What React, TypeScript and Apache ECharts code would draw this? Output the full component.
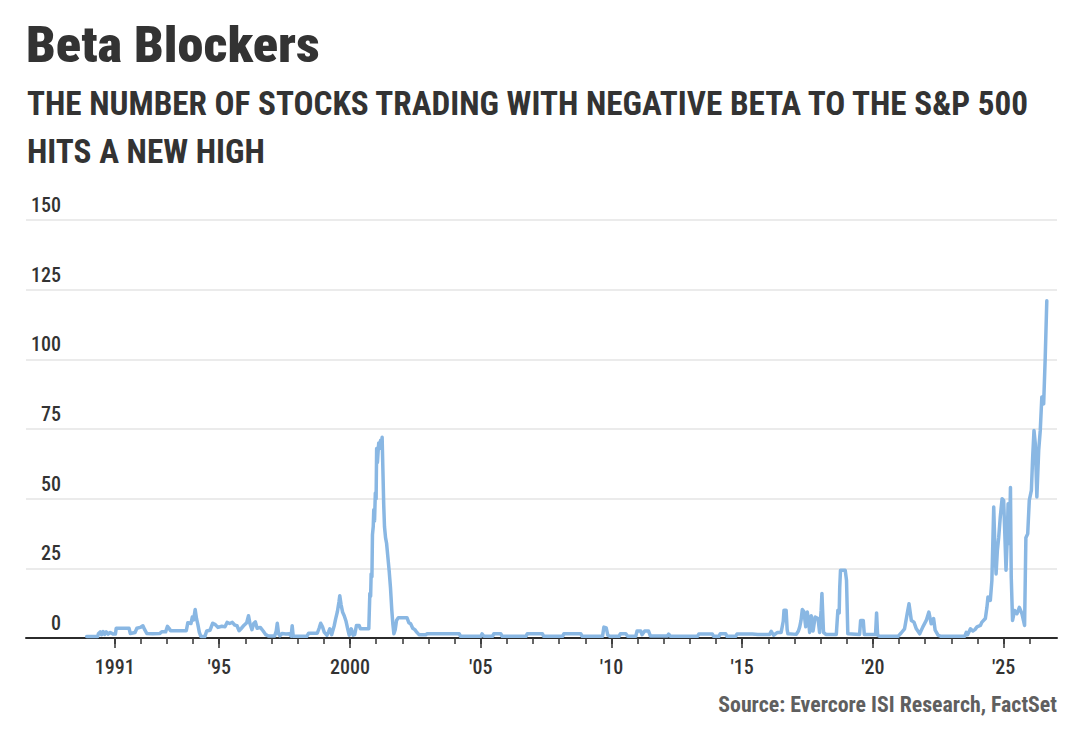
import React, { useEffect, useRef } from "react";
import * as echarts from "echarts";

const FONT = '"Liberation Sans Narrow", "Roboto Condensed", Roboto, "Liberation Sans", sans-serif';

const TITLE = "Beta Blockers";
const SUBTITLE_LINES = [
  "THE NUMBER OF STOCKS TRADING WITH NEGATIVE BETA TO THE S&P 500",
  "HITS A NEW HIGH",
];
const SOURCE = "Source: Evercore ISI Research, FactSet";

const yMin = 0;
const yMax = 150;
const yStep = 25;

const xMin = 1987.61;
const xMax = 2027.04;
const xLabelYears = [1991, 1995, 2000, 2005, 2010, 2015, 2020, 2025];
const xLabelTexts = ["1991", "'95", "2000", "'05", "'10", "'15", "'20", "'25"];
const xMinorYears = [
  1991, 1992, 1993, 1994, 1995, 1996, 1997, 1998, 1999, 2000, 2001, 2002,
  2003, 2004, 2005, 2006, 2007, 2008, 2009, 2010, 2011, 2012, 2013, 2014,
  2015, 2016, 2017, 2018, 2019, 2020, 2021, 2022, 2023, 2024, 2025, 2026,
];

// 1990s
const dates90s = [
  1989.93, 1990.35, 1990.38, 1990.45, 1990.5, 1990.56, 1990.62, 1990.68, 1990.75, 1990.83,
  1990.95, 1991.03, 1991.06, 1991.55, 1991.6, 1991.78, 1991.85, 1991.98, 1992.08, 1992.15,
  1992.23, 1992.45, 1992.72, 1992.8, 1992.95, 1993.02, 1993.08, 1993.14, 1993.74, 1993.8,
  1993.92, 1993.97, 1994.02, 1994.08, 1994.13, 1994.18, 1994.24, 1994.3, 1994.45, 1994.52,
  1994.65, 1994.75, 1994.85, 1994.95, 1995.1, 1995.22, 1995.3, 1995.4, 1995.5, 1995.6,
  1995.68, 1995.76, 1995.85, 1995.95, 1996.05, 1996.12, 1996.18, 1996.25, 1996.32, 1996.38,
  1996.45, 1996.57, 1996.68, 1996.78, 1996.88, 1997.12, 1997.18, 1997.22, 1997.27, 1997.32,
  1997.4, 1997.55, 1997.68, 1997.75, 1997.79, 1997.83, 1998.35, 1998.42, 1998.75, 1998.82,
  1998.88, 1998.95, 1999.02, 1999.12, 1999.18, 1999.23, 1999.3, 1999.4, 1999.45, 1999.52,
  1999.58, 1999.61, 1999.66, 1999.72, 1999.78, 1999.85, 1999.92, 1999.97, 2000.05, 2000.12,
  2000.18, 2000.25, 2000.35, 2000.4, 2000.72,
];
const counts90s = [
  0.5, 0.5, 1.5, 2.2, 1.2, 2.3, 1.3, 2.2, 1.4, 2.0,
  1.4, 1.4, 3.5, 3.5, 1.6, 2.0, 3.5, 3.8, 4.4, 3.0,
  1.6, 1.5, 1.6, 2.2, 2.2, 4.2, 3.5, 2.6, 2.6, 5.5,
  5.2, 7.5, 6.5, 10.2, 7.0, 5.0, 2.0, 0.5, 0.5, 2.5,
  2.8, 5.3, 4.8, 3.8, 4.2, 4.0, 5.6, 5.2, 5.6, 4.6,
  4.4, 2.6, 3.5, 4.6, 5.5, 8.0, 5.0, 3.0, 5.2, 5.8,
  3.5, 3.8, 2.5, 1.2, 0.7, 0.7, 2.5, 5.3, 1.5, 0.8,
  1.6, 1.4, 1.5, 0.7, 4.4, 0.6, 0.6, 1.7, 1.7, 3.5,
  5.3, 4.0, 2.0, 1.0, 2.2, 3.3, 1.2, 4.5, 6.8, 9.5,
  13.0, 15.2, 12.0, 9.2, 8.0, 6.0, 3.0, 1.0, 3.3, 1.0,
  1.2, 4.5, 4.5, 3.3, 3.3,
];

// dot-com spike
const datesSpike2001 = [
  2000.76, 2000.79, 2000.81, 2000.84, 2000.86, 2000.89, 2000.91, 2000.94, 2000.97, 2001.0,
  2001.02, 2001.05, 2001.07, 2001.1, 2001.13, 2001.17, 2001.21, 2001.23, 2001.26, 2001.29,
  2001.32, 2001.36, 2001.4, 2001.45, 2001.5, 2001.55, 2001.6, 2001.64, 2001.68, 2001.73,
  2001.78, 2001.85, 2002.18, 2002.25, 2002.32, 2002.4, 2002.48, 2002.56,
];
const countsSpike2001 = [
  16, 15, 23, 22, 37, 40, 46, 42, 52, 50,
  68, 63, 66, 70, 68, 71, 70, 72, 60, 48,
  40, 36, 34, 29, 24, 18, 10, 5, 1.5, 3.0,
  6.3, 7.3, 7.3, 5.5, 5.1, 3.5, 3.0, 2.0,
];

// quiet years
const datesQuiet = [
  2002.64, 2002.9, 2002.95, 2004.18, 2004.23, 2005.01, 2005.05, 2005.12, 2005.45, 2005.5,
  2005.77, 2005.82, 2006.73, 2006.78, 2007.36, 2007.41, 2008.13, 2008.18, 2008.83, 2008.88,
  2009.66, 2009.71, 2009.8, 2009.86, 2009.95, 2010.29, 2010.34, 2010.55, 2010.62, 2010.93,
  2010.98, 2011.12, 2011.17, 2011.27, 2011.42, 2011.49, 2012.14, 2012.19, 2012.26, 2013.29,
  2013.34, 2013.86, 2013.91, 2014.11, 2014.16, 2014.37, 2014.42, 2014.75, 2014.8, 2015.39,
];
const countsQuiet = [
  1.2, 1.2, 1.5, 1.5, 0.6, 0.6, 1.5, 0.6, 0.6, 1.5,
  1.5, 0.6, 0.6, 1.5, 1.5, 0.6, 0.6, 1.5, 1.5, 0.6,
  0.6, 3.9, 3.6, 1.0, 0.6, 0.6, 1.5, 1.5, 0.6, 0.6,
  2.5, 2.5, 1.2, 2.5, 2.5, 0.7, 0.7, 1.4, 0.6, 0.6,
  1.4, 1.4, 0.6, 0.6, 1.5, 1.5, 0.6, 0.6, 1.4, 1.4,
];

// 2015 - 2023
const datesLate = [
  2015.6, 2016.05, 2016.11, 2016.2, 2016.35, 2016.49, 2016.57, 2016.6, 2016.68, 2016.72,
  2016.75, 2017.07, 2017.15, 2017.2, 2017.25, 2017.3, 2017.36, 2017.43, 2017.49, 2017.55,
  2017.58, 2017.64, 2017.71, 2017.79, 2017.9, 2017.96, 2018.02, 2018.05, 2018.11, 2018.2,
  2018.6, 2018.66, 2018.71, 2018.73, 2018.76, 2018.94, 2018.99, 2019.04, 2019.49, 2019.53,
  2019.63, 2019.67, 2020.1, 2020.14, 2020.18, 2020.25, 2020.96, 2021.08, 2021.21, 2021.31,
  2021.38, 2021.47, 2021.57, 2021.66, 2021.79, 2021.91, 2022.04, 2022.14, 2022.23, 2022.32,
  2022.38, 2022.49, 2022.6, 2023.51,
];
const countsLate = [
  1.3, 1.3, 2.4, 1.0, 2.0, 2.0, 6.0, 10, 10, 3,
  1.5, 1.3, 2.5, 4, 6.3, 10.2, 9.5, 4, 9.3, 5,
  2, 8, 2.5, 7.5, 7, 2, 10, 16, 2, 1.3,
  1.3, 10, 9, 18, 24.3, 24.3, 20.7, 1.5, 1.3, 6.3,
  6.3, 1.3, 1.3, 9, 1, 0.6, 0.6, 1.8, 3.3, 8.7,
  12.3, 6.3, 5.7, 3.3, 1.5, 4, 6.3, 9.3, 5.1, 7,
  2.8, 1, 0.6, 0.6,
];

// recent surge
const datesSurge = [
  2023.57, 2023.62, 2023.73, 2023.82, 2023.9, 2023.98, 2024.11, 2024.17, 2024.3, 2024.36,
  2024.4, 2024.49, 2024.55, 2024.62, 2024.66, 2024.71, 2024.76, 2024.81, 2024.87, 2024.94,
  2025.0, 2025.04, 2025.09, 2025.13, 2025.17, 2025.22, 2025.26, 2025.29, 2025.34, 2025.42,
  2025.51, 2025.6, 2025.7, 2025.8, 2025.85, 2025.92, 2025.98, 2026.06, 2026.11, 2026.16,
  2026.21, 2026.27, 2026.34, 2026.4, 2026.46, 2026.53, 2026.59, 2026.65,
];
const countsSurge = [
  2, 1.2, 3.3, 2.5, 3.0, 4, 4.5, 5.7, 7, 11,
  14.7, 13.5, 20.7, 47, 33.9, 23, 31.5, 36, 43.4, 50,
  49.4, 38.6, 24.3, 33.9, 48.2, 33.9, 54, 21.9, 6.3, 9.9,
  8.7, 11, 8.7, 4.5, 36, 37.4, 49.4, 53, 65, 74.5,
  69.7, 50.6, 67.3, 74.5, 86.5, 84, 100.8, 121,
];

const dates = [...dates90s, ...datesSpike2001, ...datesQuiet, ...datesLate, ...datesSurge];
const counts = [...counts90s, ...countsSpike2001, ...countsQuiet, ...countsLate, ...countsSurge];

function measureText(text: string, font: string): number {
  const ctx = document.createElement("canvas").getContext("2d");
  if (!ctx) return 1;
  ctx.font = font;
  return ctx.measureText(text).width || 1;
}

export default function App() {
  const ref = useRef<HTMLDivElement>(null);

  useEffect(() => {
    document.body.style.margin = "0";
    if (!ref.current) return;
    const chart = echarts.init(ref.current, undefined, { renderer: "svg" });

    const titleSize = 50;
    const subSize = 33;
    const srcSize = 22;
    const titleWeight = 900;
    const titleScale = 294 / measureText(TITLE, `${titleWeight} ${titleSize}px ${FONT}`);
    const subScale = 1005 / measureText(SUBTITLE_LINES[0], `bold ${subSize}px ${FONT}`);
    const srcScale = 339 / measureText(SOURCE, `bold ${srcSize}px ${FONT}`);

    const textStyle = (text: string, size: number, fill: string, align: string, weight: any) => ({
      text,
      fontFamily: FONT,
      fontSize: size,
      fontWeight: weight,
      fill,
      align,
      textAlign: align,
      verticalAlign: "middle",
      textVerticalAlign: "middle",
    });

    const option: any = {
      animation: false,
      backgroundColor: "#ffffff",
      grid: { left: 26, right: 23, top: 220, bottom: 99, containLabel: false },
      xAxis: [
        {
          type: "value",
          min: xMin,
          max: xMax,
          position: "bottom",
          splitLine: { show: false },
          axisLine: { show: true, lineStyle: { color: "#2b2b2b", width: 2 } },
          axisTick: {
            show: true,
            customValues: xLabelYears,
            length: 10,
            lineStyle: { color: "#333", width: 1.5 },
          },
          axisLabel: {
            show: true,
            customValues: xLabelYears,
            margin: 19,
            fontFamily: FONT,
            fontSize: 20,
            fontWeight: 500,
            lineHeight: 20,
            color: "#333",
            formatter: (v: number) => {
              const i = xLabelYears.indexOf(Math.round(v));
              return i >= 0 ? xLabelTexts[i] : "";
            },
          },
        },
        {
          type: "value",
          min: xMin,
          max: xMax,
          position: "bottom",
          splitLine: { show: false },
          axisLine: { show: false },
          axisTick: {
            show: true,
            customValues: xMinorYears,
            length: 6,
            lineStyle: { color: "#333", width: 1.5 },
          },
          axisLabel: { show: false },
        },
      ],
      yAxis: {
        type: "value",
        min: yMin,
        max: yMax,
        interval: yStep,
        axisLine: { show: false },
        axisTick: { show: false },
        splitLine: { show: true, lineStyle: { color: "#e4e4e4", width: 1.5 } },
        axisLabel: {
          inside: true,
          align: "right",
          verticalAlign: "bottom",
          margin: 35,
          lineHeight: 20,
          padding: [0, 0, 5, 0],
          fontFamily: FONT,
          fontSize: 20,
          fontWeight: 500,
          color: "#333",
        },
      },
      series: [
        {
          type: "line",
          xAxisIndex: 0,
          data: dates.map((d, i) => [d, counts[i]]),
          showSymbol: false,
          symbol: "none",
          silent: true,
          lineStyle: { color: "#89b7e3", width: 3.5, join: "round", cap: "round" },
          z: 3,
        },
      ],
      graphic: [
        {
          type: "text",
          x: 26,
          y: 45,
          scaleX: titleScale,
          style: textStyle(TITLE, titleSize, "#333333", "left", titleWeight),
        },
        {
          type: "text",
          x: 27,
          y: 104,
          scaleX: subScale,
          style: textStyle(SUBTITLE_LINES[0], subSize, "#333333", "left", "bold"),
        },
        {
          type: "text",
          x: 27,
          y: 151.5,
          scaleX: subScale,
          style: textStyle(SUBTITLE_LINES[1], subSize, "#333333", "left", "bold"),
        },
        {
          type: "text",
          x: 1057,
          y: 704.5,
          scaleX: srcScale,
          style: textStyle(SOURCE, srcSize, "#5f5f5f", "right", "bold"),
        },
      ],
    };

    chart.setOption(option);
    return () => chart.dispose();
  }, []);

  return <div ref={ref} style={{ width: 1080, height: 737 }} />;
}
